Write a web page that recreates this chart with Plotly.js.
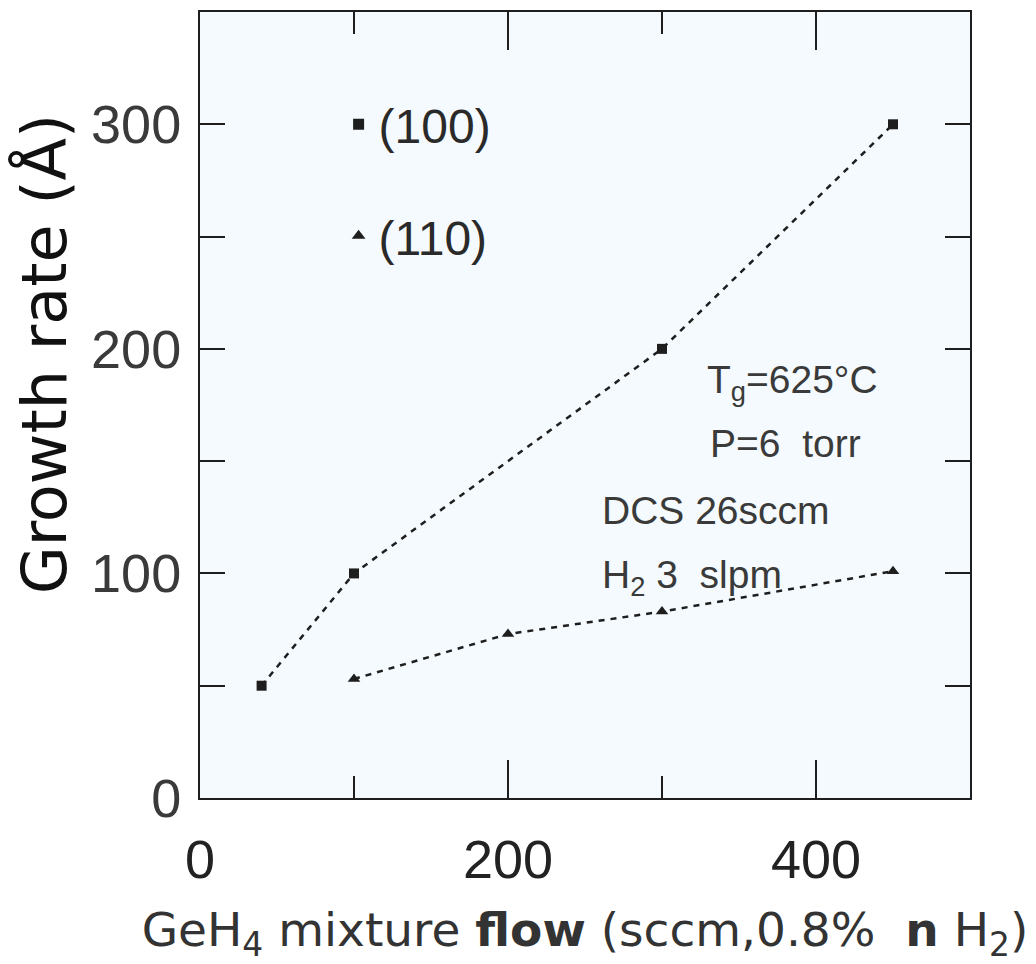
<!DOCTYPE html>
<html>
<head>
<meta charset="utf-8">
<script src="https://cdn.plot.ly/plotly-3.0.1.min.js"></script>
<style>html,body{margin:0;padding:0;background:#fff;}#chart{width:1036px;height:964px;}</style>
</head>
<body>
<div id="chart"></div>
<script>
// Data
const flow100 = [40, 100, 300, 450];
const rate100 = [50, 100, 200, 300];
const flow110 = [100, 200, 300, 450];
const rate110 = [53, 73, 83, 101];
const seriesNames = ["(100)", "(110)"];
const xTickVals = [0, 200, 400];
const yTickVals = [0, 100, 200, 300];
const conditions = ["T<sub>g</sub>=625°C", "P=6  torr", "DCS 26sccm", "H<sub>2</sub> 3  slpm"];
const yTitle = "Growth rate (Å)";
const xTitle = "GeH<sub>4</sub> mixture <b>flow</b> (sccm,0.8%  <b>n</b> H<sub>2</sub>)";

const ink = "#1e1e1e";
const dashLine = {color: ink, width: 2.5, dash: "6px,6px"};

const traces = [
  {x: flow100, y: rate100, type: "scatter", mode: "lines+markers",
   line: dashLine, marker: {symbol: "square", size: 10, color: ink},
   showlegend: false, hoverinfo: "skip"},
  {x: flow110, y: rate110, type: "scatter", mode: "lines+markers",
   line: dashLine, marker: {symbol: "triangle-up", size: 11, color: ink},
   showlegend: false, hoverinfo: "skip"},
  {x: [null], y: [null], type: "scatter", mode: "markers", name: seriesNames[0],
   legendgroup: "a", marker: {symbol: "square", size: 11, color: ink}},
  {x: [null], y: [null], type: "scatter", mode: "markers", name: seriesNames[1],
   legendgroup: "b", marker: {symbol: "triangle-up", size: 12, color: ink}}
];

const sansA = "'Liberation Sans', Arial, sans-serif";
const sansD = "'DejaVu Sans', sans-serif";
const annFont = {family: sansA, size: 39, color: "#3a3a3a"};
const annPos = [[328, 185], [330, 158], [260, 128], [260, 98]];
const annotations = conditions.map((t, i) => ({
  text: t, x: annPos[i][0], y: annPos[i][1], xref: "x", yref: "y",
  xanchor: "left", yanchor: "middle", showarrow: false, font: annFont
}));
annotations.push({
  text: yTitle, textangle: -90, xref: "paper", yref: "paper",
  x: -0.202, y: 0.565, xanchor: "center", yanchor: "middle", showarrow: false,
  font: {family: sansD, size: 62, color: "#111"}
});

const layout = {
  width: 1036, height: 964,
  margin: {l: 200, r: 66, t: 12, b: 166},
  paper_bgcolor: "#ffffff",
  plot_bgcolor: "#f4fafd",
  showlegend: true,
  legend: {x: 0.18, y: 0.905, xanchor: "left", yanchor: "top",
           bgcolor: "rgba(0,0,0,0)", traceorder: "grouped", tracegroupgap: 46,
           font: {family: sansA, size: 48, color: "#2a2a2a"}},
  xaxis: {
    range: [0, 500], tickmode: "array", tickvals: xTickVals, ticktext: xTickVals.map(String),
    ticks: "inside", ticklen: 38, tickwidth: 2, tickcolor: ink,
    minor: {dtick: 100, tick0: 0, ticks: "inside", ticklen: 22, tickwidth: 2, tickcolor: ink},
    showline: true, linecolor: ink, linewidth: 2, mirror: "ticks",
    showgrid: false, zeroline: false, ticklabelstandoff: 13,
    tickfont: {family: sansA, size: 54, color: "#222"},
    title: {text: xTitle, standoff: 34,
            font: {family: sansD, size: 47, color: "#333"}}
  },
  yaxis: {
    range: [0, 350], tickmode: "array", tickvals: yTickVals, ticktext: yTickVals.map(String),
    ticks: "inside", ticklen: 25, tickwidth: 2, tickcolor: ink,
    minor: {dtick: 50, tick0: 0, ticks: "inside", ticklen: 25, tickwidth: 2, tickcolor: ink},
    showline: true, linecolor: ink, linewidth: 2, mirror: "ticks",
    showgrid: false, zeroline: false, ticklabelstandoff: 6,
    tickfont: {family: sansA, size: 54, color: "#3a3a3a"}
  },
  annotations: annotations
};

Plotly.newPlot("chart", traces, layout, {displayModeBar: false, staticPlot: true});
</script>
</body>
</html>
